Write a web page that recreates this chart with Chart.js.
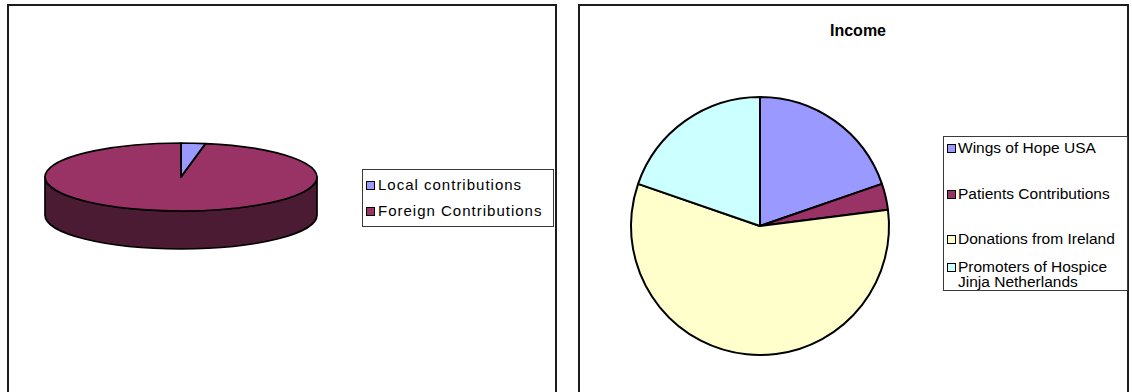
<!DOCTYPE html>
<html>
<head>
<meta charset="utf-8">
<script src="https://cdn.jsdelivr.net/npm/chart.js@4.4.0/dist/chart.umd.min.js"></script>
<style>
  html, body { margin: 0; padding: 0; background: #fff; width: 1132px; height: 392px; overflow: hidden;
               font-family: "Liberation Sans", Arial, sans-serif; }
  .panel { position: absolute; top: 4px; height: 400px; border: 2px solid #1c1c1c; border-bottom: none; box-sizing: border-box; }
  #panelA { left: 7px; width: 550px; }
  #panelB { left: 578px; width: 551px; }
  canvas { position: absolute; }
  #pieA { left: 31px; top: 27px; }
  #pieB { left: 610px; top: 76px; }
  .legend { position: absolute; border: 1px solid #3a3a3a; background: #fff; box-sizing: border-box; }
  #legendA { left: 362px; top: 169px; width: 192px; height: 58px; }
  #legendB { left: 943px; top: 136px; width: 185px; height: 155px; }
  .item { position: absolute; white-space: nowrap; color: #000; }
  .item .sw { position: absolute; left: 0; box-sizing: border-box; width: 9px; height: 9px; border: 1.8px solid #000; }
  .item .tx { position: absolute; left: 12px; top: 0; }
  #legendA .item { font-size: 15px; letter-spacing: 1px; line-height: 16px; }
  #legendB .item { font-size: 15.5px; line-height: 14.5px; }
  #legendB .item .tx { left: 11px; }
  #title { position: absolute; left: 778px; width: 160px; top: 21px; text-align: center;
           font-weight: bold; font-size: 16px; line-height: 19px; }
</style>
</head>
<body>
<div class="panel" id="panelA"></div>
<div class="panel" id="panelB"></div>
<canvas id="pieA" width="300" height="300"></canvas>
<canvas id="pieB" width="300" height="300"></canvas>
<div class="legend" id="legendA"></div>
<div id="title">Income</div>
<div class="legend" id="legendB"></div>

<script>
// Contribution split (left pie)
const contributionLabels = ['Local contributions', 'Foreign Contributions'];
const contributionValues = [2.9, 97.1];

// Income sources (right pie)
const incomeTitle = 'Income';
const incomeLabels = ['Wings of Hope USA', 'Patients Contributions', 'Donations from Ireland',
                      ['Promoters of Hospice', 'Jinja Netherlands']];
const incomeValues = [19.7, 3.3, 57.3, 19.7];

const contributionColors = ['#9999FF', '#993366'];
const contributionSides  = ['#4C4C80', '#4B1A33'];
const incomeColors = ['#9999FF', '#993366', '#FFFFCC', '#CCFFFF'];

// Draws the pie as a tilted disc: a squashed top face plus the visible front wall.
const tiltedDisc = {
  id: 'tiltedDisc',
  beforeDatasetsDraw(chart, args, opts) {
    const arcs = chart.getDatasetMeta(0).data;
    const ctx = chart.ctx;
    const { x: cx, y: cy, outerRadius: R } = arcs[0];
    const k = opts.tilt, D = opts.depth / k;
    const squash = () => { ctx.translate(cx, cy); ctx.scale(1, k); ctx.translate(-cx, -cy); };

    // front wall, per slice, where it faces the viewer (canvas angles 0..π)
    arcs.forEach((arc, i) => {
      for (const off of [-2 * Math.PI, 0, 2 * Math.PI]) {
        const lo = Math.max(arc.startAngle, off), hi = Math.min(arc.endAngle, off + Math.PI);
        if (lo >= hi) continue;
        ctx.save();
        squash();
        ctx.beginPath();
        ctx.arc(cx, cy, R, lo, hi);
        ctx.arc(cx, cy + D, R, hi, lo, true);
        ctx.closePath();
        ctx.restore();
        ctx.fillStyle = opts.sideColors[i];
        ctx.fill();
        ctx.lineWidth = opts.lineWidth;
        ctx.strokeStyle = '#000';
        ctx.lineJoin = 'round';
        ctx.stroke();
      }
    });

    ctx.save();
    squash();
  },
  afterDatasetsDraw(chart, args, opts) {
    const ctx = chart.ctx;
    ctx.restore();
    const arcs = chart.getDatasetMeta(0).data;
    const { x: cx, y: cy, outerRadius: R } = arcs[0];
    const k = opts.tilt;
    // slice outlines on the top face, stroked after un-squashing so the line width stays even
    arcs.forEach(arc => {
      ctx.save();
      ctx.translate(cx, cy); ctx.scale(1, k); ctx.translate(-cx, -cy);
      ctx.beginPath();
      ctx.moveTo(cx, cy);
      ctx.arc(cx, cy, R, arc.startAngle, arc.endAngle);
      ctx.closePath();
      ctx.restore();
      ctx.lineWidth = opts.lineWidth;
      ctx.strokeStyle = '#000';
      ctx.lineJoin = 'round';
      ctx.stroke();
    });
  }
};

const chartA = new Chart(document.getElementById('pieA'), {
  type: 'pie',
  data: {
    labels: contributionLabels,
    datasets: [{ data: contributionValues, backgroundColor: contributionColors,
                 borderWidth: 0, radius: 136, clip: false }]
  },
  options: {
    responsive: false, animation: false, events: [],
    plugins: {
      legend: { display: false }, tooltip: { enabled: false },
      tiltedDisc: { tilt: 0.25, depth: 38, sideColors: contributionSides, lineWidth: 1.7 }
    }
  },
  plugins: [tiltedDisc]
});

const chartB = new Chart(document.getElementById('pieB'), {
  type: 'pie',
  data: {
    labels: incomeLabels,
    datasets: [{ data: incomeValues, backgroundColor: incomeColors,
                 borderColor: '#000', borderWidth: 2, radius: 129 }]
  },
  options: {
    responsive: false, animation: false, events: [],
    plugins: { legend: { display: false }, tooltip: { enabled: false } }
  }
});

document.getElementById('title').textContent = incomeTitle;

// Legend boxes built from each chart's own labels and colours
function buildLegend(chart, el, rowTops, swatchTop) {
  const ds = chart.data.datasets[0];
  chart.data.labels.forEach((label, i) => {
    const item = document.createElement('div');
    item.className = 'item';
    item.style.left = '3px';
    item.style.top = rowTops[i] + 'px';
    const sw = document.createElement('span');
    sw.className = 'sw';
    sw.style.top = swatchTop + 'px';
    sw.style.background = ds.backgroundColor[i];
    const tx = document.createElement('span');
    tx.className = 'tx';
    (Array.isArray(label) ? label : [label]).forEach((line, j) => {
      if (j) tx.appendChild(document.createElement('br'));
      tx.appendChild(document.createTextNode(line));
    });
    item.appendChild(sw);
    item.appendChild(tx);
    el.appendChild(item);
  });
}
buildLegend(chartA, document.getElementById('legendA'), [7, 33], 4);
buildLegend(chartB, document.getElementById('legendB'), [4, 50, 95, 123], 3);
</script>
</body>
</html>
